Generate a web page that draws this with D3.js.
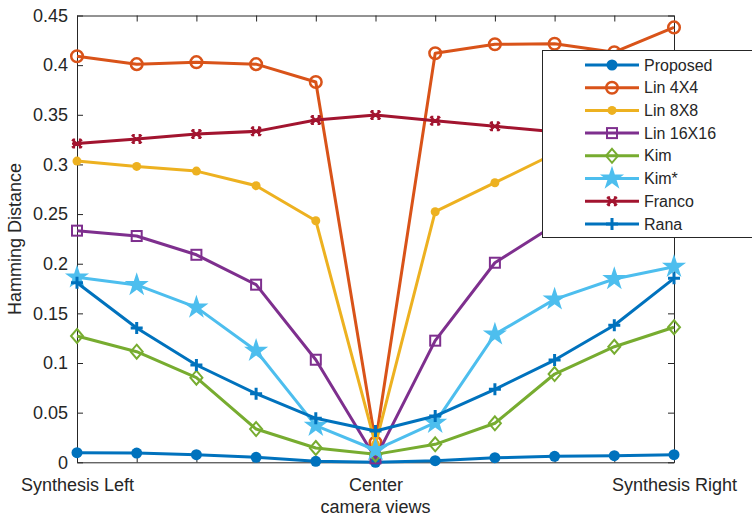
<!DOCTYPE html>
<html><head><meta charset="utf-8">
<script src="https://cdn.jsdelivr.net/npm/d3@7"></script>
<style>body{margin:0;background:#fff}svg{display:block}text{font-family:"Liberation Sans",Arial,sans-serif;fill:#262626}</style>
</head><body><svg id="c" width="752" height="517"></svg>
<script>
const views = [0,1,2,3,4,5,6,7,8,9,10];
const xTickLabels = {0:"Synthesis Left",5:"Center",10:"Synthesis Right"};
const yTicks = [0,0.05,0.1,0.15,0.2,0.25,0.3,0.35,0.4,0.45];
const seriesNames = ["Proposed","Lin 4X4","Lin 8X8","Lin 16X16","Kim","Kim*","Franco","Rana"];
const proposed = [0.0097,0.0093,0.0077,0.005,0.001,0.0,0.0016,0.0046,0.006,0.0067,0.0077];
const lin4 = [0.409,0.401,0.403,0.401,0.383,0.02,0.412,0.421,0.4215,0.413,0.438];
const lin8 = [0.3034,0.298,0.2933,0.2786,0.2433,0.018,0.2524,0.2816,0.311,0.318,0.322];
const lin16 = [0.2333,0.2279,0.209,0.1789,0.1033,0.004,0.1225,0.201,0.239,0.245,0.25];
const kim = [0.1272,0.1114,0.0852,0.0335,0.0144,0.008,0.0181,0.0393,0.0889,0.1164,0.136];
const kimStar = [0.1863,0.1786,0.156,0.1124,0.0369,0.0124,0.0399,0.1289,0.1641,0.1846,0.197];
const franco = [0.321,0.3256,0.3306,0.3333,0.3447,0.3497,0.344,0.3384,0.333,0.327,0.323];
const rana = [0.1809,0.1352,0.098,0.0691,0.0443,0.0315,0.0466,0.0735,0.103,0.138,0.1853];
const colors = ["#0072BD","#D95319","#EDB120","#7E2F8E","#77AC30","#4DBEEE","#A2142F","#0072BD"];
const markers = ["dot","circle","smalldot","square","diamond","star","asterisk","plus"];

const svg = d3.select("#c");
const L=77,R=674,T=15.5,B=462.3;
const x = d3.scaleLinear().domain([0,10]).range([L,R]);
const y = d3.scaleLinear().domain([0,0.45]).range([B,T]);
const axisColor="#262626";

const g = svg.append("g");
const fs = "18px";
const xb = g.append("g").attr("transform",`translate(0,${B})`)
  .call(d3.axisBottom(x).tickValues(views).tickSizeInner(-6).tickSizeOuter(0).tickPadding(16).tickFormat(d=>xTickLabels[d]||""));
const xt = g.append("g").attr("transform",`translate(0,${T})`)
  .call(d3.axisTop(x).tickValues(views).tickSizeInner(-6).tickSizeOuter(0).tickFormat(""));
const yl = g.append("g").attr("transform",`translate(${L},0)`)
  .call(d3.axisLeft(y).tickValues(yTicks).tickSizeInner(-6).tickSizeOuter(0).tickPadding(9).tickFormat(d=>d3.format("")(+d.toFixed(2))));
const yr = g.append("g").attr("transform",`translate(${R},0)`)
  .call(d3.axisRight(y).tickValues(yTicks).tickSizeInner(-6).tickSizeOuter(0).tickFormat(""));
[xb,xt,yl,yr].forEach(a=>{a.selectAll("path,line").attr("stroke",axisColor).attr("stroke-width",1);
  a.selectAll("text").style("font-size",fs).attr("fill",axisColor);});

g.append("text").attr("x",(L+R)/2).attr("y",513).attr("text-anchor","middle").style("font-size",fs).text("camera views");
g.append("text").attr("transform",`translate(21,${(T+B)/2}) rotate(-90)`).attr("text-anchor","middle").style("font-size",fs).text("Hamming Distance");

const data=[proposed,lin4,lin8,lin16,kim,kimStar,franco,rana];
const line = d3.line().x((d,i)=>x(views[i])).y(d=>y(d));

function drawMarker(sel,type,color,cx,cy){
  const m = sel.append("g").attr("transform",`translate(${cx},${cy})`);
  if(type==="dot") m.append("circle").attr("r",5.5).attr("fill",color);
  else if(type==="smalldot") m.append("circle").attr("r",4.5).attr("fill",color);
  else if(type==="circle") m.append("circle").attr("r",5.8).attr("fill","none").attr("stroke",color).attr("stroke-width",2.5);
  else if(type==="square") m.append("rect").attr("x",-5).attr("y",-5).attr("width",10).attr("height",10).attr("fill","none").attr("stroke",color).attr("stroke-width",2);
  else if(type==="diamond") m.append("path").attr("d","M0,-7L6,0L0,7L-6,0Z").attr("fill","none").attr("stroke",color).attr("stroke-width",2);
  else if(type==="star") m.append("path").attr("d",d3.symbol(d3.symbolStar,180)()).attr("fill",color);
  else if(type==="asterisk"){ m.append("path").attr("d","M-5,-4L5,4M-5,4L5,-4M-3,-5L-3,5M3,-5L3,5M-5,0L5,0").attr("stroke",color).attr("stroke-width",2.2);}
  else if(type==="plus") m.append("path").attr("d","M-6,0L6,0M0,-6L0,6").attr("stroke",color).attr("stroke-width",3);
}

data.forEach((s,k)=>{
  g.append("path").datum(s).attr("d",line).attr("fill","none").attr("stroke",colors[k]).attr("stroke-width",3).attr("stroke-linejoin","round");
  s.forEach((v,i)=>drawMarker(g,markers[k],colors[k],x(views[i]),y(v)));
});

const lg = svg.append("g");
lg.append("rect").attr("x",542.5).attr("y",50.5).attr("width",220).attr("height",187).attr("fill","#fff").attr("stroke","#262626").attr("stroke-width",1);
seriesNames.forEach((n,k)=>{
  const yy = 65 + k*22.7;
  lg.append("line").attr("x1",585).attr("x2",639).attr("y1",yy).attr("y2",yy).attr("stroke",colors[k]).attr("stroke-width",3);
  drawMarker(lg,markers[k],colors[k],612,yy);
  lg.append("text").attr("x",644).attr("y",yy).attr("dy","0.35em").style("font-size","16px").attr("fill","#000").text(n);
});
</script></body></html>
